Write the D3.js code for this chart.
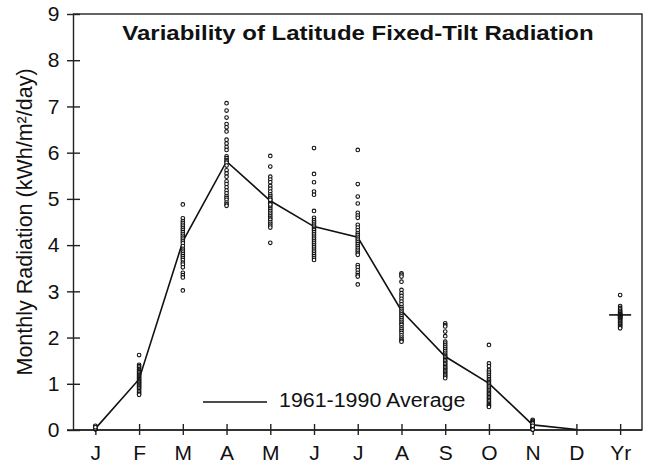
<!DOCTYPE html>
<html>
<head>
<meta charset="utf-8">
<script src="https://cdn.jsdelivr.net/npm/d3@7"></script>
<style>
  body { margin: 0; background: #fff; }
  text { font-family: "Liberation Sans", Arial, Helvetica, sans-serif; fill: #111; }
</style>
</head>
<body>
<div id="chart"></div>
<script>
// ===== Data =====
const months = ["J","F","M","A","M ","J ","J  ","A ","S","O","N","D","Yr"];
const monthLabels = ["J","F","M","A","M","J","J","A","S","O","N","D","Yr"];

// yearly values 1961-1990 for each month (kWh/m2/day)
const jan = [0.02,0.03,0.04,0.05,0.03,0.02,0.06,0.04,0.03,0.05,0.07,0.02,0.03,0.04,0.08,0.05,0.03,0.02,0.04,0.06,0.03,0.05,0.04,0.02,0.03,0.09,0.04,0.05,0.03,0.06];
const feb = [1.62,1.41,1.38,1.35,1.32,1.30,1.27,1.25,1.22,1.20,1.18,1.16,1.14,1.12,1.10,1.08,1.06,1.04,1.02,1.00,0.98,0.96,0.94,0.92,0.90,0.87,0.84,0.81,0.78,0.76];
const mar = [4.88,4.58,4.52,4.48,4.44,4.40,4.36,4.32,4.28,4.24,4.20,4.16,4.12,4.08,4.04,3.98,3.92,3.88,3.84,3.80,3.76,3.72,3.68,3.62,3.58,3.52,3.40,3.35,3.30,3.02];
const apr = [7.07,6.91,6.76,6.62,6.55,6.46,6.28,6.20,6.12,6.06,5.92,5.88,5.84,5.81,5.78,5.72,5.62,5.55,5.48,5.38,5.32,5.25,5.18,5.12,5.06,5.02,4.98,4.92,4.88,4.85];
const may = [5.93,5.70,5.48,5.42,5.36,5.28,5.22,5.16,5.10,5.06,5.02,4.98,4.94,4.90,4.86,4.82,4.78,4.74,4.70,4.66,4.62,4.58,4.55,4.50,4.46,4.42,4.38,4.05,4.98,4.88];
const jun = [6.10,5.54,5.36,5.16,5.09,4.74,4.59,4.54,4.50,4.46,4.42,4.38,4.35,4.32,4.28,4.24,4.20,4.16,4.12,4.08,4.04,4.00,3.96,3.92,3.88,3.84,3.80,3.76,3.72,3.68];
const jul = [6.06,5.32,5.05,4.90,4.70,4.64,4.59,4.44,4.38,4.32,4.26,4.22,4.18,4.14,4.10,4.06,4.02,3.98,3.94,3.90,3.86,3.82,3.79,3.57,3.52,3.46,3.40,3.35,3.32,3.15];
const aug = [3.39,3.36,3.32,3.21,3.03,2.96,2.90,2.84,2.78,2.72,2.66,2.62,2.58,2.54,2.50,2.46,2.42,2.38,2.34,2.30,2.27,2.22,2.18,2.14,2.10,2.05,2.00,1.96,1.93,1.91];
const sep = [2.31,2.27,2.24,2.13,2.03,1.91,1.87,1.83,1.79,1.75,1.71,1.67,1.63,1.60,1.57,1.54,1.51,1.48,1.45,1.42,1.39,1.36,1.33,1.30,1.27,1.24,1.21,1.18,1.15,1.12];
const oct = [1.84,1.44,1.38,1.30,1.26,1.22,1.18,1.14,1.10,1.07,1.04,1.01,0.98,0.95,0.92,0.89,0.86,0.83,0.80,0.77,0.74,0.71,0.68,0.65,0.62,0.59,0.56,0.54,0.52,0.50];
const nov = [0.22,0.20,0.18,0.16,0.15,0.14,0.13,0.12,0.11,0.10,0.10,0.09,0.08,0.08,0.07,0.06,0.06,0.05,0.05,0.04,0.04,0.03,0.03,0.02,0.02,0.01,0.01,0.12,0.14,0.09];
const dec = [];
const yr  = [2.92,2.68,2.64,2.61,2.58,2.56,2.54,2.52,2.51,2.50,2.49,2.48,2.47,2.46,2.45,2.44,2.43,2.42,2.41,2.40,2.38,2.36,2.34,2.32,2.30,2.28,2.26,2.24,2.22,2.20];

// 1961-1990 monthly averages (J..D) and the yearly average
const avg = [0.03,1.10,4.08,5.81,4.96,4.40,4.17,2.58,1.59,1.01,0.11,0.01];
const yrAvg = 2.49;

const yTicks = [0,1,2,3,4,5,6,7,8,9];

// ===== Layout =====
const W = 645, H = 465;
const X0 = 73.5, X1 = 642, Y0 = 430, Y1 = 14;

const svg = d3.select("#chart").append("svg")
  .attr("width", W).attr("height", H);

const x = d3.scalePoint().domain(months).range([X0, X1]).padding(0.5);
const y = d3.scaleLinear().domain([0, 9]).range([Y0, Y1]);

// frame
svg.append("rect")
  .attr("x", X0).attr("y", Y1)
  .attr("width", X1 - X0).attr("height", Y0 - Y1)
  .attr("fill", "none").attr("stroke", "#222").attr("stroke-width", 1.4);

// y axis (ticks cross the axis)
const yAxis = svg.append("g").attr("transform", `translate(${X0},0)`)
  .call(d3.axisLeft(y).tickValues(yTicks).tickSize(0).tickPadding(14));
yAxis.select(".domain").remove();
yAxis.selectAll(".tick line")
  .attr("x1", -6.5).attr("x2", 6.5)
  .attr("stroke", "#222").attr("stroke-width", 1.4);
yAxis.selectAll(".tick text")
  .attr("font-size", 21).attr("fill", "#111");

// x axis
const xAxis = svg.append("g").attr("transform", `translate(0,${Y0})`)
  .call(d3.axisBottom(x).tickSize(0).tickPadding(15).tickFormat((d, i) => monthLabels[i]));
xAxis.select(".domain").attr("d", `M${X0 - 6.5},0H${X1}`).attr("stroke", "#222").attr("stroke-width", 1.4);
xAxis.selectAll(".tick line")
  .attr("y1", -6).attr("y2", 5)
  .attr("stroke", "#222").attr("stroke-width", 1.4);
xAxis.selectAll(".tick text")
  .attr("font-size", 21).attr("fill", "#111");

// y label
svg.append("text")
  .attr("transform", `translate(32,222) rotate(-90)`)
  .attr("text-anchor", "middle")
  .attr("font-size", 21.5)
  .text("Monthly Radiation (kWh/m²/day)");

// title
svg.append("text")
  .attr("transform", "translate(358,40) scale(1.2,1)")
  .attr("text-anchor", "middle")
  .attr("font-size", 20).attr("font-weight", "bold")
  .text("Variability of Latitude Fixed-Tilt Radiation");

// average line (J..D)
const monthly = [jan, feb, mar, apr, may, jun, jul, aug, sep, oct, nov, dec, yr];
const line = d3.line().x((d, i) => x(months[i])).y(d => y(d));
svg.append("path")
  .datum(avg)
  .attr("d", line)
  .attr("fill", "none").attr("stroke", "#111").attr("stroke-width", 1.6);

// yearly average cross bar
svg.append("line")
  .attr("x1", x("Yr") - 11).attr("x2", x("Yr") + 11)
  .attr("y1", y(yrAvg)).attr("y2", y(yrAvg))
  .attr("stroke", "#111").attr("stroke-width", 1.6);

// yearly points
const pts = monthly.flatMap((vals, i) => vals.map(v => ({ m: months[i], v })));
svg.append("g").selectAll("circle")
  .data(pts)
  .join("circle")
  .attr("cx", d => x(d.m))
  .attr("cy", d => y(d.v))
  .attr("r", 1.8)
  .attr("fill", "#fff")
  .attr("stroke", "#111").attr("stroke-width", 1.1);

// legend
svg.append("line")
  .attr("x1", 203).attr("x2", 267).attr("y1", 402).attr("y2", 402)
  .attr("stroke", "#111").attr("stroke-width", 1.6);
svg.append("text")
  .attr("transform", "translate(279,407) scale(1.07,1)")
  .attr("font-size", 20)
  .text("1961-1990 Average");
</script>
</body>
</html>
